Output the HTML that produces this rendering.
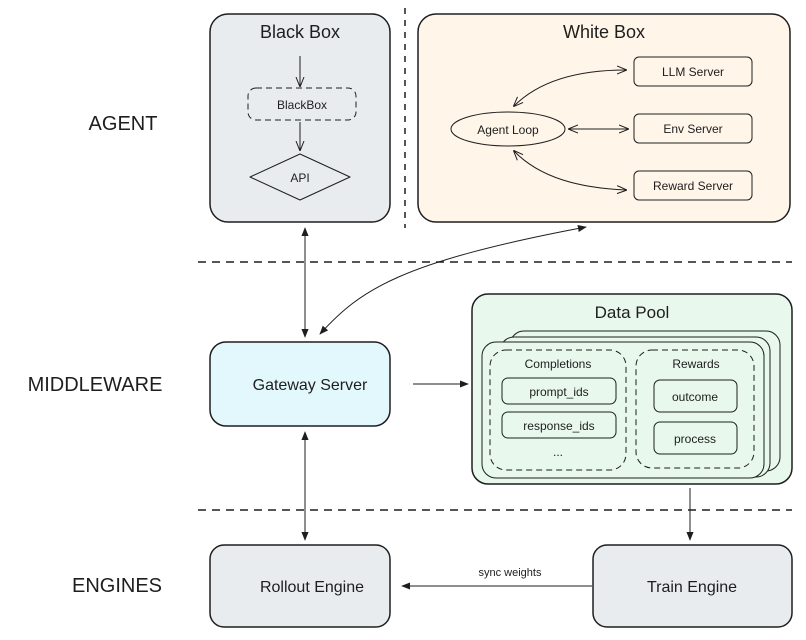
<!DOCTYPE html>
<html><head><meta charset="utf-8"><style>
html,body{margin:0;padding:0;background:#fff;}
svg{display:block;font-family:"Liberation Sans",sans-serif;}
</style></head><body>
<svg width="806" height="640" viewBox="0 0 806 640" xmlns="http://www.w3.org/2000/svg">
<defs>
<marker id="a" viewBox="0 0 10 10" refX="9" refY="5" markerWidth="9" markerHeight="9" orient="auto-start-reverse"><path d="M0,1 L10,5 L0,9 z" fill="#1e1e1e"/></marker>
<marker id="o" viewBox="0 0 10 10" refX="9" refY="5" markerWidth="10" markerHeight="10" orient="auto-start-reverse"><path d="M0,1 L10,5 L0,9" fill="none" stroke="#1e1e1e" stroke-width="1"/></marker>
</defs>
<g stroke="#1e1e1e" fill="none">
<!-- separators -->
<line x1="405" y1="8" x2="405" y2="228" stroke-dasharray="6,6" stroke-width="1.5"/>
<line x1="198" y1="262" x2="792" y2="262" stroke-dasharray="8,6" stroke-width="1.5"/>
<line x1="198" y1="510" x2="792" y2="510" stroke-dasharray="8,6" stroke-width="1.5"/>
<!-- black box -->
<rect x="210" y="14" width="180" height="208" rx="18" fill="#e9ecef" stroke-width="1.5"/>
<line x1="300" y1="56" x2="300" y2="86" marker-end="url(#o)"/>
<rect x="248" y="88" width="108" height="32" rx="8" stroke-dasharray="6,4"/>
<line x1="300" y1="122" x2="300" y2="150" marker-end="url(#o)"/>
<path d="M250,177 L300,154 L350,177 L300,200 Z" stroke-linejoin="round"/>
<!-- white box -->
<rect x="418" y="14" width="372" height="208" rx="18" fill="#fff5e9" stroke-width="1.5"/>
<rect x="634" y="57" width="118" height="29" rx="5"/>
<rect x="634" y="114" width="118" height="29" rx="5"/>
<rect x="634" y="171" width="118" height="29" rx="5"/>
<ellipse cx="508" cy="129" rx="57" ry="17"/>
<path d="M514,106 C540,80 580,70 626,70" marker-start="url(#o)" marker-end="url(#o)"/>
<line x1="569" y1="129" x2="628" y2="129" marker-start="url(#o)" marker-end="url(#o)"/>
<path d="M514,151 C540,178 580,188 626,190" marker-start="url(#o)" marker-end="url(#o)"/>
<!-- middleware -->
<rect x="210" y="342" width="180" height="84" rx="16" fill="#e3f8fc" stroke-width="1.5"/>
<line x1="305" y1="228" x2="305" y2="337" marker-start="url(#a)" marker-end="url(#a)"/>
<path d="M320,334 C360,290 400,262 586,227" marker-start="url(#a)" marker-end="url(#a)"/>
<line x1="413" y1="384" x2="468" y2="384" marker-end="url(#a)"/>
<line x1="305" y1="432" x2="305" y2="540" marker-start="url(#a)" marker-end="url(#a)"/>
<!-- data pool -->
<rect x="472" y="294" width="320" height="190" rx="16" fill="#e8f8ec" stroke-width="1.5"/>
<rect x="510" y="331" width="270" height="140" rx="14" fill="#e8f8ec"/>
<rect x="500" y="337" width="270" height="140" rx="14" fill="#e8f8ec"/>
<rect x="482" y="342" width="282" height="136" rx="14" fill="#e8f8ec"/>
<rect x="490" y="350" width="136" height="120" rx="16" stroke-dasharray="6,4"/>
<rect x="636" y="350" width="118" height="118" rx="16" stroke-dasharray="6,4"/>
<rect x="502" y="378" width="114" height="26" rx="6"/>
<rect x="502" y="412" width="114" height="26" rx="6"/>
<rect x="654" y="380" width="83" height="32" rx="6"/>
<rect x="654" y="422" width="83" height="32" rx="6"/>
<line x1="690" y1="488" x2="690" y2="540" marker-end="url(#a)"/>
<!-- engines -->
<rect x="210" y="545" width="180" height="82" rx="14" fill="#e9ecef" stroke-width="1.5"/>
<rect x="593" y="545" width="199" height="82" rx="14" fill="#e9ecef" stroke-width="1.5"/>
<line x1="592" y1="586" x2="402" y2="586" marker-end="url(#a)"/>
</g>
<g fill="#1e1e1e" text-anchor="middle">
<text x="300" y="38" font-size="18">Black Box</text>
<text x="604" y="38" font-size="18">White Box</text>
<text x="302" y="109" font-size="12">BlackBox</text>
<text x="300" y="182" font-size="12">API</text>
<text x="693" y="76" font-size="12">LLM Server</text>
<text x="693" y="133" font-size="12">Env Server</text>
<text x="693" y="190" font-size="12">Reward Server</text>
<text x="508" y="134" font-size="12">Agent Loop</text>
<text x="310" y="390" font-size="16">Gateway Server</text>
<text x="632" y="318" font-size="17">Data Pool</text>
<text x="558" y="368" font-size="12">Completions</text>
<text x="696" y="368" font-size="12">Rewards</text>
<text x="559" y="396" font-size="12">prompt_ids</text>
<text x="559" y="430" font-size="12">response_ids</text>
<text x="558" y="456" font-size="12">...</text>
<text x="695" y="401" font-size="12">outcome</text>
<text x="695" y="443" font-size="12">process</text>
<text x="312" y="592" font-size="16">Rollout Engine</text>
<text x="692" y="592" font-size="16">Train Engine</text>
<text x="510" y="576" font-size="11">sync weights</text>
<text x="123" y="130" font-size="20">AGENT</text>
<text x="95" y="391" font-size="20">MIDDLEWARE</text>
<text x="117" y="592" font-size="20">ENGINES</text>
</g>
</svg>
</body></html>
